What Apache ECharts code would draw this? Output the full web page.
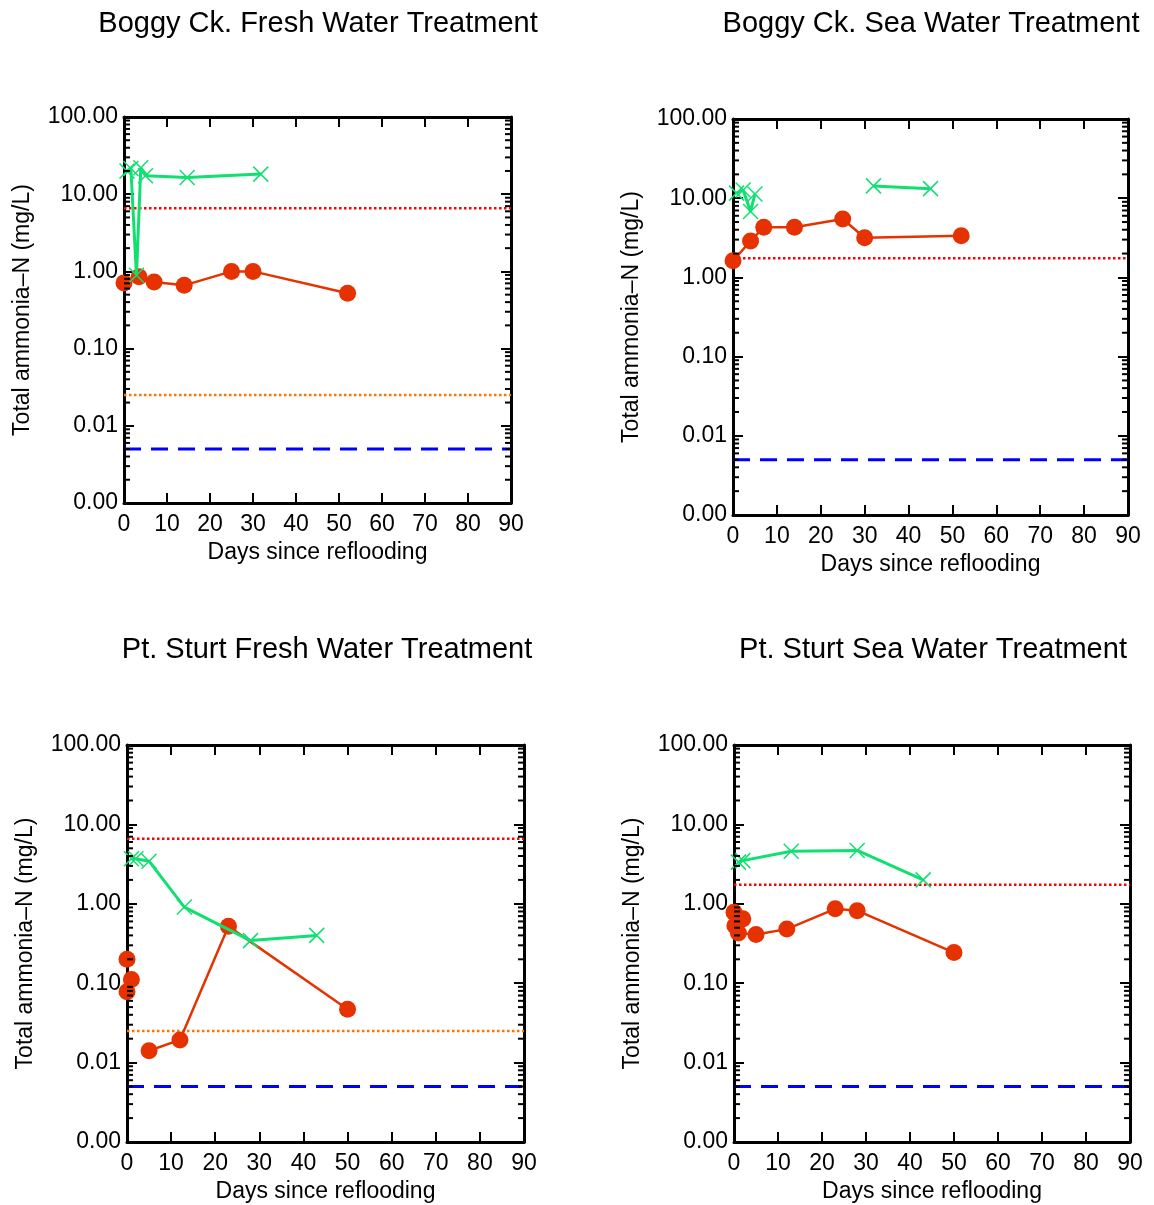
<!DOCTYPE html>
<html>
<head>
<meta charset="utf-8">
<script src="https://cdn.jsdelivr.net/npm/echarts@6/dist/echarts.min.js"></script>
<style>
html,body{margin:0;padding:0;background:#fff;}
#c{width:1154px;height:1205px;}
</style>
</head>
<body>
<div id="c"></div>
<script>
// ---- data ----
const titles = ['Boggy Ck. Fresh Water Treatment','Boggy Ck. Sea Water Treatment','Pt. Sturt Fresh Water Treatment','Pt. Sturt Sea Water Treatment'];
const xTicks = [0,10,20,30,40,50,60,70,80,90];
const yTicks = [0.001,0.01,0.1,1,10,100];

// Boggy Ck. fresh
const bcFreshRedDays = [0,3.5,7,14,25,30,52];
const bcFreshRedVals = [0.71,0.85,0.73,0.66,1.0,1.0,0.52];
const bcFreshGreenDays = [0.7,1.6,2.9,3.9,5,14.7,31.8];
const bcFreshGreenVals = [20,21.5,0.89,22,17.3,16.5,18.2];
const bcFreshRefs = [6.6,0.025,0.005];

// Boggy Ck. sea
const bcSeaRedDays = [0,4,7,14,25,30,52];
const bcSeaRedVals = [1.62,2.88,4.3,4.3,5.47,3.17,3.36];
const bcSeaGreenDays = [0.8,2.3,4,5,null,32,45];
const bcSeaGreenVals = [11.6,12.7,6.8,11.3,null,14.3,13.2];
const bcSeaRefs = [1.74,null,0.005];

// Pt. Sturt fresh
const psFreshRedDays = [0,null,1,null,0,null,5,12,23,50];
const psFreshRedVals = [0.2,null,0.111,null,0.078,null,0.0141,0.0193,0.52,0.047];
const psFreshGreenDays = [1,2,5,13,28,43];
const psFreshGreenVals = [3.7,3.7,3.44,0.91,0.344,0.40];
const psFreshRefs = [6.6,0.025,0.005];

// Pt. Sturt sea
const psSeaRedDays = [0,2,0.2,1,5,12,23,28,50];
const psSeaRedVals = [0.785,0.646,0.53,0.43,0.41,0.48,0.865,0.82,0.243];
const psSeaGreenDays = [1,2,13,28,43];
const psSeaGreenVals = [3.35,3.5,4.6,4.7,2.0];
const psSeaRefs = [1.74,null,0.005];

const panels = [
  {red:[bcFreshRedDays,bcFreshRedVals], green:[bcFreshGreenDays,bcFreshGreenVals], refs:bcFreshRefs},
  {red:[bcSeaRedDays,bcSeaRedVals], green:[bcSeaGreenDays,bcSeaGreenVals], refs:bcSeaRefs},
  {red:[psFreshRedDays,psFreshRedVals], green:[psFreshGreenDays,psFreshGreenVals], refs:psFreshRefs},
  {red:[psSeaRedDays,psSeaRedVals], green:[psSeaGreenDays,psSeaGreenVals], refs:psSeaRefs}
];

// ---- layout / style ----
const grids = [
  {left:124, top:117, width:387, height:386},
  {left:733, top:119, width:395, height:396},
  {left:127, top:745, width:397, height:397},
  {left:734, top:745, width:396, height:397}
];
const titleCenters = [[313,19],[926,19],[322,645],[928,645]];
const FONT = '"Liberation Sans", Arial, sans-serif';
const FS = 23;
const RED = '#e63200', GREEN = '#10e070';
const refStyles = [
  {color:'#ff0000', width:2.5, type:[2.5,2.5]},
  {color:'#ff7400', width:2.5, type:[2.5,2.5]},
  {color:'#0000ff', width:3, type:[17,10]}
];
const XPATH = 'path://M0,0L10,10M10,0L0,10';

// minor tick positions on log axis (2..9 x decade)
const minorVals = [];
for (let e = -3; e < 2; e++) for (let m = 2; m <= 9; m++) minorVals.push(m * Math.pow(10, e));

const toPairs = (d, v) => d.map((x, i) => (x === null || v[i] === null) ? ['-','-'] : [x, v[i]]);

const option = {
  animation: false,
  backgroundColor: '#fff',
  title: titles.map((t, i) => ({
    text: t, left: titleCenters[i][0], top: titleCenters[i][1], textAlign: 'center', textVerticalAlign: 'middle',
    textStyle: {fontFamily: FONT, fontSize: 29, fontWeight: 'normal', color: '#000'}
  })),
  grid: grids.map(g => Object.assign({containLabel:false}, g)),
  xAxis: [],
  yAxis: [],
  series: []
};

const axLine = {show:true, onZero:false, lineStyle:{color:'#000', width:3}};
for (let i = 0; i < 4; i++) {
  option.xAxis.push({
    type:'value', gridIndex:i, min:xTicks[0], max:xTicks[xTicks.length-1], interval:10,
    axisLine: axLine, axisTick:{show:true, inside:true, length:10, lineStyle:{width:2, color:'#000'}},
    axisLabel:{fontFamily:FONT, fontSize:FS, color:'#000', margin:10},
    splitLine:{show:false},
    name:'Days since reflooding', nameLocation:'middle', nameGap:38,
    nameTextStyle:{fontFamily:FONT, fontSize:FS, color:'#000'}
  });
  option.yAxis.push({
    type:'log', logBase:10, gridIndex:i, min:yTicks[0], max:yTicks[yTicks.length-1], interval:1,
    axisLine: axLine, axisTick:{show:true, inside:true, length:10, lineStyle:{width:2, color:'#000'}},
    axisLabel:{fontFamily:FONT, fontSize:FS, color:'#000', margin:6, formatter: v => Number(v).toFixed(2)},
    splitLine:{show:false}, minorTick:{show:false},
    name:'Total ammonia\u2013N (mg/L)', nameLocation:'middle', nameGap:90, nameRotate:90,
    nameTextStyle:{fontFamily:FONT, fontSize:FS, color:'#000'}
  });
}
for (let i = 0; i < 4; i++) {
  option.xAxis.push({
    type:'value', gridIndex:i, position:'top', min:0, max:90, interval:10,
    axisLine: axLine, axisTick:{show:true, inside:true, length:10, lineStyle:{width:2, color:'#000'}},
    axisLabel:{show:false}, splitLine:{show:false}
  });
  option.yAxis.push({
    type:'log', logBase:10, gridIndex:i, position:'right', min:0.001, max:100, interval:1,
    axisLine: axLine, axisTick:{show:true, inside:true, length:10, lineStyle:{width:2, color:'#000'}},
    axisLabel:{show:false}, splitLine:{show:false}
  });
}

panels.forEach((p, i) => {
  // minor log ticks on both sides
  option.series.push({
    type:'custom', xAxisIndex:i, yAxisIndex:i, silent:true, clip:false, z:10,
    data: minorVals.map(v => [0, v]),
    encode:{x:0, y:1},
    renderItem: (params, api) => {
      const v = api.value(1);
      const a = api.coord([0, v]);
      const b = api.coord([90, v]);
      const st = {stroke:'#000', lineWidth:2};
      return {type:'group', children:[
        {type:'line', shape:{x1:a[0], y1:a[1], x2:a[0]+6, y2:a[1]}, style:st},
        {type:'line', shape:{x1:b[0]-6, y1:b[1], x2:b[0], y2:b[1]}, style:st}
      ]};
    }
  });
  // reference lines (horizontal across full x range)
  p.refs.forEach((r, k) => {
    if (r === null) return;
    option.series.push({
      type:'line', xAxisIndex:i, yAxisIndex:i, silent:true, z:2,
      data:[[xTicks[0], r],[xTicks[xTicks.length-1], r]],
      showSymbol:false, symbol:'none', lineStyle:refStyles[k]
    });
  });
  // red circles
  option.series.push({
    type:'line', xAxisIndex:i, yAxisIndex:i, z:3,
    data: toPairs(p.red[0], p.red[1]), connectNulls:false,
    symbol:'circle', symbolSize:17, showSymbol:true,
    itemStyle:{color:RED}, lineStyle:{color:RED, width:2.5}
  });
  // green crosses
  option.series.push({
    type:'line', xAxisIndex:i, yAxisIndex:i, z:4,
    data: toPairs(p.green[0], p.green[1]), connectNulls:false,
    symbol:XPATH, symbolSize:15, showSymbol:true,
    itemStyle:{color:'rgba(0,0,0,0)', borderColor:GREEN, borderWidth:1.5},
    lineStyle:{color:GREEN, width:3}
  });
});

const chart = echarts.init(document.getElementById('c'), null, {renderer:'canvas'});
chart.setOption(option);
</script>
</body>
</html>
